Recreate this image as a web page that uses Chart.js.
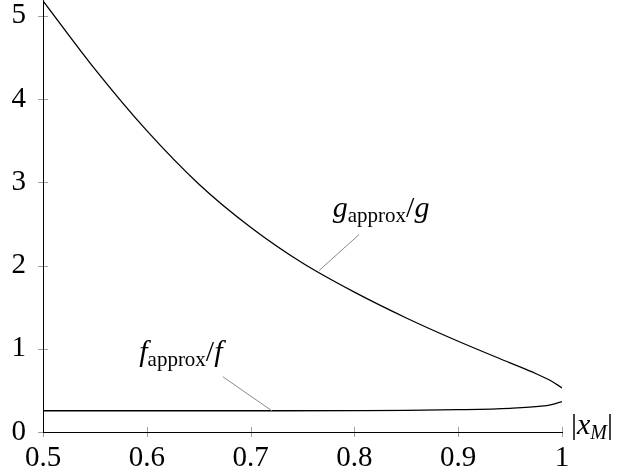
<!DOCTYPE html>
<html>
<head>
<meta charset="utf-8">
<script src="https://cdn.jsdelivr.net/npm/chart.js@4"></script>
<style>
  html, body { margin: 0; padding: 0; background: #fff; }
  #wrap { width: 631px; height: 474px; }
</style>
</head>
<body>
<div id="wrap"><canvas id="ratioChart" width="631" height="474"></canvas></div>
<script>
// values
const xTicks = [0.5, 0.6, 0.7, 0.8, 0.9, 1];
const yTicks = [0, 1, 2, 3, 4, 5];

const gX = [0.5, 0.55, 0.6, 0.65, 0.7, 0.75, 0.8, 0.85, 0.9, 0.95, 0.975, 0.99, 1.0];
const gY = [5.18, 4.36, 3.62, 2.98, 2.46, 2.03, 1.68, 1.37, 1.09, 0.83, 0.70, 0.61, 0.53];

const fX = [0.5, 0.6, 0.7, 0.8, 0.85, 0.9, 0.95, 0.98, 0.99, 1.0];
const fY = [0.255, 0.255, 0.255, 0.257, 0.26, 0.268, 0.285, 0.31, 0.33, 0.365];

const SERIF = '"Liberation Serif", "DejaVu Serif", serif';

function toPoints(xs, ys) {
    return xs.map((v, i) => ({ x: v, y: ys[i] }));
}

// draw a label like g_approx/g from a list of text pieces
function mathLabel(ctx, parts, x, y, center) {
    let w = 0;
    parts.forEach(p => {
        ctx.font = p.font;
        w += ctx.measureText(p.t).width;
    });
    let cx = center ? x - w / 2 : x;
    parts.forEach(p => {
        ctx.font = p.font;
        ctx.fillText(p.t, cx, y + (p.dy || 0));
        cx += ctx.measureText(p.t).width;
    });
}

const decor = {
    id: 'decor',
    beforeDraw(chart) {
        const { ctx, scales: { x, y } } = chart;
        ctx.save();
        ctx.strokeStyle = '#a0a0a0';
        ctx.lineWidth = 1;
        ctx.beginPath();
        xTicks.forEach(v => {
            const px = Math.round(x.getPixelForValue(v)) + 0.5;
            ctx.moveTo(px, y.bottom - 5);
            ctx.lineTo(px, y.bottom + 5);
        });
        yTicks.forEach(v => {
            const py = Math.round(y.getPixelForValue(v)) + 0.5;
            ctx.moveTo(x.left - 5, py);
            ctx.lineTo(x.left + 5, py);
        });
        ctx.stroke();
        ctx.restore();
    },
    afterDraw(chart) {
        const { ctx, scales: { x, y } } = chart;
        ctx.save();
        // pins from the curves to their labels
        ctx.strokeStyle = '#8a8a8a';
        ctx.lineWidth = 1;
        ctx.beginPath();
        const gA = { x: x.getPixelForValue(0.766), y: y.getPixelForValue(1.94) };
        const gB = { x: gA.x + 40, y: gA.y - 36 };
        ctx.moveTo(gA.x, gA.y); ctx.lineTo(gB.x, gB.y);
        const fA = { x: x.getPixelForValue(0.7205), y: y.getPixelForValue(0.255) };
        const fB = { x: fA.x - 49, y: fA.y - 34 };
        ctx.moveTo(fA.x, fA.y); ctx.lineTo(fB.x, fB.y);
        ctx.stroke();

        ctx.fillStyle = '#000';
        ctx.textBaseline = 'alphabetic';
        ctx.textAlign = 'left';
        const it = 'italic 30px ' + SERIF;
        const rm = '30px ' + SERIF;
        const sub = '21px ' + SERIF;
        mathLabel(ctx, [
            { t: 'g', font: it },
            { t: 'approx', font: sub, dy: 5 },
            { t: '/', font: rm },
            { t: 'g', font: it }
        ], gB.x + 22, gB.y - 18, true);
        mathLabel(ctx, [
            { t: 'f', font: it },
            { t: 'approx', font: sub, dy: 5 },
            { t: '/', font: rm },
            { t: 'f', font: it }
        ], fB.x - 42, fB.y - 16, true);

        // axis label |x_M|
        const ax = x.right + 9;
        const ay = y.bottom + 2;
        mathLabel(ctx, [
            { t: '|', font: rm },
            { t: 'x', font: it },
            { t: 'M', font: 'italic 20px ' + SERIF, dy: 5 },
            { t: '|', font: rm }
        ], ax, ay, false);
        ctx.restore();
    }
};

new Chart(document.getElementById('ratioChart'), {
    type: 'line',
    data: {
        datasets: [{
            label: 'g_approx/g',
            data: toPoints(gX, gY),
            borderColor: '#000',
            borderWidth: 1.3,
            pointRadius: 0,
            cubicInterpolationMode: 'monotone',
            fill: false
        }, {
            label: 'f_approx/f',
            data: toPoints(fX, fY),
            borderColor: '#000',
            borderWidth: 1.3,
            pointRadius: 0,
            cubicInterpolationMode: 'monotone',
            fill: false
        }]
    },
    options: {
        responsive: false,
        animation: false,
        events: [],
        layout: { padding: { top: 0, right: 69, left: 0, bottom: 0 } },
        plugins: {
            legend: { display: false },
            tooltip: { enabled: false }
        },
        scales: {
            x: {
                type: 'linear',
                min: 0.5,
                max: 1,
                afterFit: s => {
                    s.height = 42;
                    s.paddingLeft = 0; s.paddingRight = 0;
                },
                afterBuildTicks: s => { s.ticks = xTicks.map(v => ({ value: v })); },
                grid: { display: false, drawTicks: false },
                border: { display: true, color: '#000', width: 1 },
                ticks: {
                    color: '#000',
                    padding: 9,
                    maxRotation: 0,
                    font: { family: SERIF, size: 29 },
                    callback: v => String(v)
                }
            },
            y: {
                type: 'linear',
                min: 0,
                max: 5.19,
                afterFit: s => {
                    s.width = 43;
                    s.paddingTop = 0; s.paddingBottom = 0;
                },
                afterBuildTicks: s => { s.ticks = yTicks.map(v => ({ value: v })); },
                grid: { display: false, drawTicks: false },
                border: { display: true, color: '#000', width: 1 },
                ticks: {
                    color: '#000',
                    padding: 17,
                    font: { family: SERIF, size: 29 },
                    callback: v => String(v)
                }
            }
        }
    },
    plugins: [decor]
});
</script>
</body>
</html>
